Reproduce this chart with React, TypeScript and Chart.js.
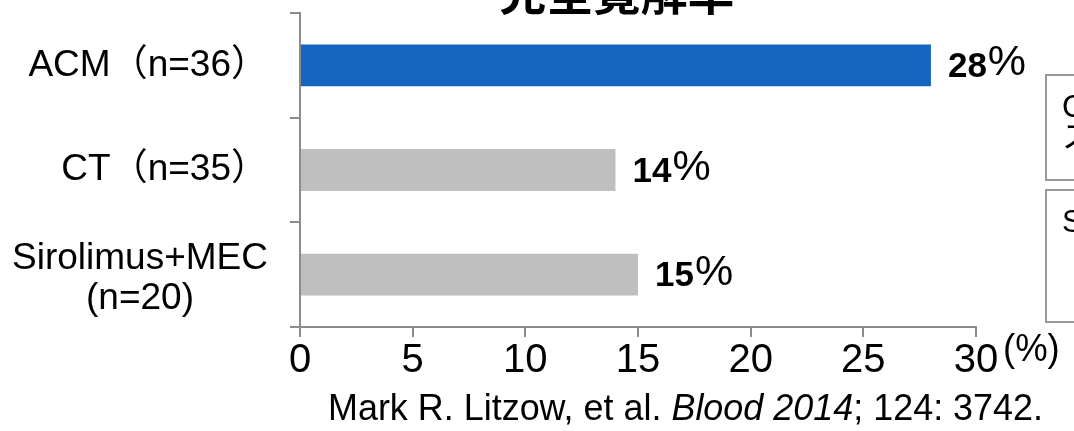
import React, { useEffect, useRef } from "react";
import { Chart, registerables } from "chart.js";

Chart.register(...registerables);

// ---- data ----
const categories: string[][] = [["ACM（n=36）"], ["CT（n=35）"], ["Sirolimus+MEC", "(n=20)"]];
const values: number[] = [28, 14, 15];
const barColors: string[] = ["#1565C0", "#BFBFBF", "#BFBFBF"];
const xTicks: number[] = [0, 5, 10, 15, 20, 25, 30];
const valueSuffix = "%";
const titleText = "完全寛解率";
const unitText = "(%)";
const citationParts: { text: string; italic: boolean }[] = [
  { text: "Mark R. Litzow, et al. ", italic: false },
  { text: "Blood 2014", italic: true },
  { text: "; 124: 3742.", italic: false },
];
const noteBoxes: string[][] = [["C", "ス"], ["S"]];

const FONT = "'Liberation Sans', Arial, 'Noto Sans CJK JP', sans-serif";
const AXIS_COLOR = "#8c8c8c";

const overlayPlugin = {
  id: "overlay",
  afterDraw(chart: any) {
    const ctx: CanvasRenderingContext2D = chart.ctx;
    const yScale = chart.scales.y;
    const area = chart.chartArea;
    ctx.save();

    // title (clipped at the top)
    ctx.fillStyle = "#000";
    ctx.font = `bold 47px 'Noto Sans CJK JP', sans-serif`;
    ctx.textAlign = "center";
    ctx.textBaseline = "alphabetic";
    ctx.fillText(titleText, 617, 10);

    // category labels
    ctx.font = `37px ${FONT}`;
    const labelRight = 268;
    categories.forEach((lines, i) => {
      const yc = yScale.getPixelForTick(i);
      const widths = lines.map((l) => ctx.measureText(l).width);
      const maxW = Math.max(...widths);
      const cx = labelRight - maxW / 2;
      const lh = 40;
      const y0 = yc - ((lines.length - 1) * lh) / 2 + (lines.length > 1 ? 4 : 0);
      ctx.textAlign = "center";
      ctx.textBaseline = "middle";
      lines.forEach((l, j) => ctx.fillText(l, cx, y0 + j * lh));
    });

    // value labels
    const meta = chart.getDatasetMeta(0);
    meta.data.forEach((bar: any, i: number) => {
      const x = bar.x + 17;
      const y = bar.y;
      ctx.textAlign = "left";
      ctx.textBaseline = "middle";
      ctx.font = `bold 35px ${FONT}`;
      const num = String(values[i]);
      ctx.fillText(num, x, y + 2);
      const w = ctx.measureText(num).width;
      ctx.font = `43px ${FONT}`;
      ctx.fillText(valueSuffix, x + w + 1, y - 2);
    });

    // unit
    ctx.font = `38px ${FONT}`;
    ctx.textAlign = "left";
    ctx.textBaseline = "middle";
    ctx.save();
    ctx.translate(1003, area.bottom + 24);
    ctx.scale(0.96, 1);
    ctx.fillText(unitText, 0, 0);
    ctx.restore();

    // citation, condensed to fit its span
    ctx.textBaseline = "alphabetic";
    ctx.textAlign = "left";
    const cSize = 37;
    let total = 0;
    citationParts.forEach((p) => {
      ctx.font = `${p.italic ? "italic " : ""}${cSize}px ${FONT}`;
      total += ctx.measureText(p.text).width;
    });
    const cLeft = 328;
    const cRight = 1043;
    const sx = (cRight - cLeft) / total;
    ctx.save();
    ctx.translate(cLeft, 420);
    ctx.scale(sx, 1);
    let cx = 0;
    citationParts.forEach((p) => {
      ctx.font = `${p.italic ? "italic " : ""}${cSize}px ${FONT}`;
      ctx.fillText(p.text, cx, 0);
      cx += ctx.measureText(p.text).width;
    });
    ctx.restore();

    // note boxes (clipped at right)
    ctx.strokeStyle = "#999";
    ctx.lineWidth = 2;
    const boxes = [
      { top: 75, bottom: 180 },
      { top: 190, bottom: 322 },
    ];
    ctx.font = `31px ${FONT}`;
    boxes.forEach((b, i) => {
      ctx.strokeRect(1046, b.top, 300, b.bottom - b.top);
      noteBoxes[i].forEach((t, j) => {
        ctx.textBaseline = "alphabetic";
        ctx.fillText(t, 1062, b.top + 42 + j * 30);
      });
    });

    ctx.restore();
  },
};

export default function App() {
  const ref = useRef<HTMLCanvasElement | null>(null);
  useEffect(() => {
    if (!ref.current) return;
    const chart = new Chart(ref.current, {
      type: "bar",
      data: {
        labels: categories.map((l) => l.join(" ")),
        datasets: [
          {
            data: values,
            backgroundColor: barColors,
            barPercentage: 0.4,
            categoryPercentage: 1,
          },
        ],
      },
      options: {
        indexAxis: "y",
        animation: false,
        responsive: false,
        devicePixelRatio: 1,
        layout: { padding: { top: 13, right: 98, left: 0, bottom: 0 } },
        plugins: {
          legend: { display: false },
          tooltip: { enabled: false },
          title: { display: false },
        },
        scales: {
          x: {
            min: 0,
            max: 30,
            afterBuildTicks: (s: any) => {
              s.ticks = xTicks.map((v) => ({ value: v }));
            },
            ticks: {
              color: "#000",
              font: { family: FONT, size: 40 },
              padding: 0,
              maxRotation: 0,
            },
            grid: {
              drawOnChartArea: false,
              drawTicks: true,
              tickLength: 10,
              color: AXIS_COLOR,
              lineWidth: 2,
            },
            border: { color: AXIS_COLOR, width: 2 },
            afterFit: (s: any) => {
              s.height = 104;
            },
          },
          y: {
            ticks: { display: false },
            grid: {
              offset: true,
              drawOnChartArea: false,
              drawTicks: true,
              tickLength: 10,
              color: AXIS_COLOR,
              lineWidth: 2,
            },
            border: { color: AXIS_COLOR, width: 2 },
            afterFit: (s: any) => {
              s.width = 300;
            },
          },
        },
      },
      plugins: [overlayPlugin],
    } as any);
    return () => chart.destroy();
  }, []);
  return (
    <div style={{ position: "absolute", left: 0, top: 0, width: 1074, height: 431, background: "#fff" }}>
      <canvas ref={ref} width={1074} height={431} style={{ display: "block" }} />
    </div>
  );
}
